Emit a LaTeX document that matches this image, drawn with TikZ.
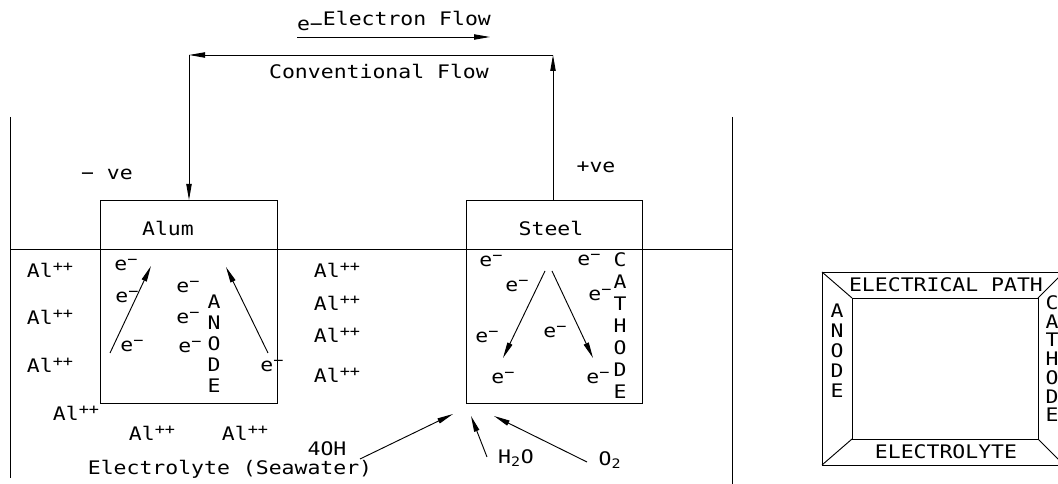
\documentclass[tikz,border=0pt]{standalone}
\usepackage{fontspec}
\newfontfamily\cadfont[FakeStretch=1.15]{DejaVu Sans Mono}
\usetikzlibrary{arrows.meta}
\newcommand{\sups}[1]{\raisebox{4.5pt}{\fontsize{11}{13}\selectfont #1}}
\newcommand{\elec}{e\sups{−}}
\newcommand{\alion}{Al\sups{++}}

\begin{document}
\begin{tikzpicture}[x=0.75pt, y=-0.75pt, line width=0.7pt,
    >={Stealth[length=12pt, width=4pt, inset=0pt]},
    every node/.style={font=\cadfont\fontsize{14}{16}\selectfont, inner sep=0pt}]
    \useasboundingbox (0,0) rectangle (1058,484);
    \clip (0,0) rectangle (1058,484);

    \coordinate (alumNW) at (100,200);
    \coordinate (alumSE) at (277,403);
    \coordinate (steelNW) at (466,200);
    \coordinate (steelSE) at (642,403);
    \coordinate (alumTop) at (189,200);
    \coordinate (steelTop) at (553,200);
    \coordinate (wireL) at (189,55);
    \coordinate (wireR) at (553,55);

    \draw (10,117) -- (10,478);
    \draw (732,117) -- (732,484);
    \draw (10,249) -- (732,249);
    \draw (alumNW) rectangle (alumSE);
    \draw (steelNW) rectangle (steelSE);

    \draw[->] (steelTop) -- (wireR);
    \draw[->] (wireR) -- (wireL);
    \draw[->] (wireL) -- (alumTop);

    \coordinate (flowA) at (297,37);
    \coordinate (flowB) at (490,37);
    \draw[->] (flowA) -- (flowB);
    \node (eflow) at (394,21) {\raisebox{-4pt}{e−}Electron Flow};
    \node (cflow) at (379,71) {Conventional Flow};
    \node (neg) at (107,174) {− ve};
    \node (pos) at (596,167) {+ve};
    \node (alum) at (168,228) {Alum};
    \node (steel) at (551,228) {Steel};

    \foreach \p in {(50,270), (50,317), (50,365), (76,413), (152,433), (245,433),
                    (337,270), (337,303), (337,335), (337,375)}
        \node at \p {\alion};

    \foreach \p in {(126,265), (127,297), (132,346), (188,287), (188,318), (190,347), (272,366),
                    (491,261), (589,260), (517,286), (600,295), (487,337), (555,332), (503,378), (598,378)}
        \node at \p {\elec};

    \foreach \ch [count=\i] in {A,N,O,D,E}
        \node at (214,281+21*\i) {\ch};
    \foreach \ch [count=\i] in {C,A,T,H,O,D,E}
        \node at (620,238+22*\i) {\ch};

    \draw[->] (110,353) -- (151,266);
    \draw[->] (268,353) -- (226,267);
    \draw[->] (545,271) -- (503,358);
    \draw[->] (552,271) -- (593,358);

    \node (oh) at (327,449) {4OH};
    \node (water) at (516,458) {H\textsubscript{2}O};
    \node (oxygen) at (610,460) {O\textsubscript{2}};
    \node (sea) at (230,469) {Electrolyte (Seawater)};
    \draw[->] (360,459) -- (453,414);
    \draw[->] (487,457) -- (471,416);
    \draw[->] (587,462) -- (494,416);

    \coordinate (outNW) at (822,272);
    \coordinate (outNE) at (1064,272);
    \coordinate (outSW) at (822,465);
    \coordinate (outSE) at (1064,465);
    \coordinate (inNW) at (852,298);
    \coordinate (inNE) at (1038,298);
    \coordinate (inSW) at (852,439);
    \coordinate (inSE) at (1038,439);
    \draw (outNW) rectangle (outSE);
    \draw (inNW) rectangle (inSE);
    \draw (outNW) -- (inNW);
    \draw (outNE) -- (inNE);
    \draw (outSW) -- (inSW);
    \draw (outSE) -- (inSE);

    \node (path) at (946,285) {ELECTRICAL PATH};
    \node (lyte) at (946,452) {ELECTROLYTE};
    \foreach \ch [count=\i] in {A,N,O,D,E}
        \node at (837,291+20*\i) {\ch};
    \foreach \ch [count=\i] in {C,A,T,H,O,D,E}
        \node at (1052,284+18.7*\i) {\ch};
\end{tikzpicture}
\end{document}
